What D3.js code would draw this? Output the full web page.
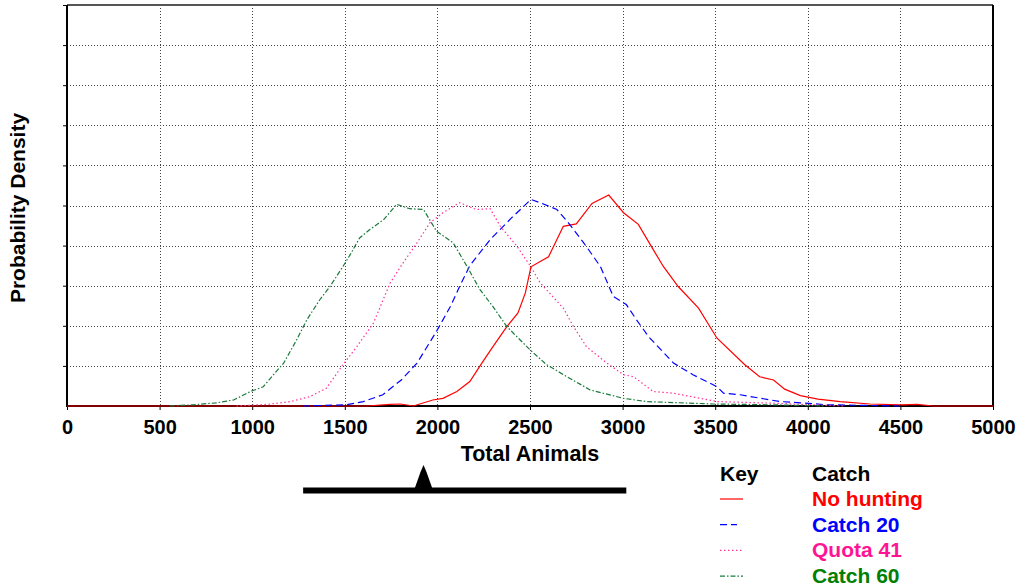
<!DOCTYPE html>
<html>
<head>
<meta charset="utf-8">
<script src="https://cdn.jsdelivr.net/npm/d3@7"></script>
<style>
  html, body { margin: 0; padding: 0; background: #fff; }
  svg { display: block; font-family: Arial, "Liberation Sans", sans-serif; }
</style>
</head>
<body>
<svg id="chart" width="1021" height="588"></svg>
<script>
// Density curves (x = total animals, y = grid units 0..10)
const noHunting = [
  [0, 0], [1620, 0], [1745, 0.04], [1800, 0.05], [1870, 0], [1975, 0.15], [2030, 0.19],
  [2105, 0.36], [2175, 0.61], [2240, 1.07], [2300, 1.48], [2375, 1.98], [2435, 2.32],
  [2475, 2.82], [2505, 3.47], [2600, 3.72], [2680, 4.48], [2750, 4.54], [2835, 5.05],
  [2925, 5.26], [3005, 4.82], [3085, 4.53], [3155, 3.98], [3220, 3.48], [3300, 2.98],
  [3410, 2.44], [3510, 1.69], [3660, 1.03], [3740, 0.73], [3815, 0.65], [3875, 0.42],
  [3960, 0.26], [4055, 0.17], [4175, 0.11], [4335, 0.05], [4500, 0.03], [4590, 0.04],
  [4675, 0], [5000, 0]
];
const catch20 = [
  [1275, 0], [1510, 0.03], [1600, 0.11], [1705, 0.28], [1805, 0.65], [1890, 1.07],
  [1995, 1.86], [2070, 2.48], [2120, 2.98], [2175, 3.5], [2285, 4.15], [2400, 4.69],
  [2505, 5.15], [2555, 5.07], [2645, 4.9], [2700, 4.61], [2790, 4.07], [2880, 3.48],
  [2950, 2.73], [3020, 2.53], [3075, 2.15], [3140, 1.73], [3275, 1.07], [3380, 0.78],
  [3510, 0.48], [3545, 0.32], [3635, 0.28], [3850, 0.11], [3960, 0.08], [4105, 0.03],
  [4500, 0]
];
const quota41 = [
  [915, 0], [1080, 0.04], [1205, 0.11], [1310, 0.23], [1400, 0.44], [1490, 1.03],
  [1565, 1.48], [1655, 2.07], [1745, 3.07], [1815, 3.57], [1890, 4.07], [1960, 4.57],
  [2030, 4.82], [2120, 5.07], [2210, 4.9], [2285, 4.92], [2340, 4.48], [2430, 3.98],
  [2505, 3.47], [2555, 3.07], [2680, 2.44], [2735, 1.98], [2805, 1.48], [2915, 1.07],
  [3005, 0.78], [3060, 0.73], [3165, 0.36], [3275, 0.32], [3510, 0.11], [3815, 0.07],
  [4200, 0]
];
const catch60 = [
  [555, 0], [680, 0.03], [810, 0.08], [900, 0.15], [990, 0.36], [1060, 0.48],
  [1115, 0.78], [1170, 1.07], [1240, 1.65], [1295, 2.15], [1365, 2.65], [1420, 2.98],
  [1490, 3.48], [1530, 3.78], [1580, 4.19], [1635, 4.4], [1710, 4.65], [1780, 5.03],
  [1850, 4.92], [1925, 4.9], [1995, 4.36], [2085, 4.07], [2160, 3.48], [2230, 2.9],
  [2300, 2.48], [2375, 1.98], [2500, 1.4], [2590, 1.03], [2700, 0.73], [2825, 0.4],
  [3005, 0.19], [3130, 0.11], [3490, 0.05], [3810, 0.03], [4100, 0]
];

const xTicks = [0, 500, 1000, 1500, 2000, 2500, 3000, 3500, 4000, 4500, 5000];
const yTicks = [1, 2, 3, 4, 5, 6, 7, 8, 9, 10];
const sliderRange = [1275, 3020];
const sliderMark = 1925;

const seriesNames = ["No hunting", "Catch 20", "Quota 41", "Catch 60"];
const seriesData = [noHunting, catch20, quota41, catch60];
const lineColors = ["#ff0000", "#0000ff", "#ff3399", "#1b7a3c"];
const textColors = ["#ff0000", "#0000ff", "#ff1493", "#008000"];
const dashes = [null, "7,4", "1.5,2.5", "5,2,1.5,2"];

const svg = d3.select("#chart");
const margin = { left: 67, right: 28, top: 5, bottom: 182 };
const W = 1021, H = 588;

const x = d3.scaleLinear().domain([0, 5000]).range([margin.left, W - margin.right]);
const y = d3.scaleLinear().domain([0, 10]).range([H - margin.bottom, margin.top]);

// gridlines
const grid = svg.append("g").attr("stroke", "#444").attr("stroke-width", 1)
  .attr("stroke-dasharray", "1,2").attr("shape-rendering", "crispEdges");
grid.selectAll(".vg").data(xTicks.slice(1, -1)).join("line")
  .attr("x1", d => Math.round(x(d)) + 0.5).attr("x2", d => Math.round(x(d)) + 0.5)
  .attr("y1", y(10)).attr("y2", y(0));
grid.selectAll(".hg").data(yTicks.slice(0, -1)).join("line")
  .attr("y1", d => Math.round(y(d)) + 0.5).attr("y2", d => Math.round(y(d)) + 0.5)
  .attr("x1", x(0)).attr("x2", x(5000));

// axes
const xAxis = d3.axisBottom(x).tickValues(xTicks).tickSize(4).tickPadding(10).tickFormat(d3.format("d"));
const gx = svg.append("g").attr("transform", `translate(0,${y(0)})`).call(xAxis);
gx.select(".domain").remove();
gx.selectAll("line").attr("stroke", "#000");
gx.selectAll("text").attr("font-size", 20).attr("font-weight", "bold").attr("fill", "#000")
  .attr("font-family", "Arial, 'Liberation Sans', sans-serif");

const yAxis = d3.axisLeft(y).tickValues(yTicks).tickSize(4).tickFormat("");
const gy = svg.append("g").attr("transform", `translate(${x(0)},0)`).call(yAxis);
gy.select(".domain").remove();
gy.selectAll("line").attr("stroke", "#000");

// frame
svg.append("line").attr("x1", x(0)).attr("x2", x(5000)).attr("y1", y(10)).attr("y2", y(10))
  .attr("stroke", "#555").attr("stroke-width", 2);
svg.append("line").attr("x1", x(5000)).attr("x2", x(5000)).attr("y1", y(10)).attr("y2", y(0))
  .attr("stroke", "#000").attr("stroke-width", 2);
svg.append("line").attr("x1", x(0)).attr("x2", x(0)).attr("y1", y(10)).attr("y2", y(0) + 1)
  .attr("stroke", "#000").attr("stroke-width", 2);
svg.append("line").attr("x1", x(0) - 1).attr("x2", x(5000) + 1).attr("y1", y(0)).attr("y2", y(0))
  .attr("stroke", "#000").attr("stroke-width", 2);

// curves
const line = d3.line().x(d => x(d[0])).y(d => y(d[1]));
svg.append("g").selectAll("path").data(seriesData).join("path")
  .attr("d", line)
  .attr("fill", "none")
  .attr("stroke", (d, i) => lineColors[i])
  .attr("stroke-width", 1.2)
  .attr("stroke-dasharray", (d, i) => dashes[i]);

// axis titles
svg.append("text").attr("x", 530).attr("y", 461).attr("text-anchor", "middle")
  .attr("font-size", 21.5).attr("font-weight", "bold").text("Total Animals");
svg.append("text").attr("transform", "translate(25,208) rotate(-90)").attr("text-anchor", "middle")
  .attr("font-size", 21).attr("font-weight", "bold").text("Probability Density");

// slider
svg.append("line").attr("x1", x(sliderRange[0])).attr("x2", x(sliderRange[1]))
  .attr("y1", 490.5).attr("y2", 490.5).attr("stroke", "#000").attr("stroke-width", 6);
const sx = x(sliderMark);
svg.append("path").attr("d", `M${sx - 9},489 L${sx - 3},472 L${sx},465 L${sx + 3},472 L${sx + 9},489 Z`)
  .attr("fill", "#000");

// legend
const legend = svg.append("g").attr("font-size", 21).attr("font-weight", "bold");
legend.append("text").attr("x", 720).attr("y", 481).text("Key");
legend.append("text").attr("x", 812).attr("y", 481).text("Catch");
const rows = legend.selectAll(".row").data(seriesNames).join("g")
  .attr("transform", (d, i) => `translate(0,${506 + i * 25.7})`);
rows.append("line").attr("x1", 720).attr("x2", (d, i) => i === 1 ? 737 : 743)
  .attr("y1", -7).attr("y2", -7)
  .attr("stroke", (d, i) => lineColors[i]).attr("stroke-width", 1.2)
  .attr("stroke-dasharray", (d, i) => dashes[i]);
rows.append("text").attr("x", 812).attr("y", 0)
  .attr("fill", (d, i) => textColors[i]).text(d => d);
</script>
</body>
</html>
